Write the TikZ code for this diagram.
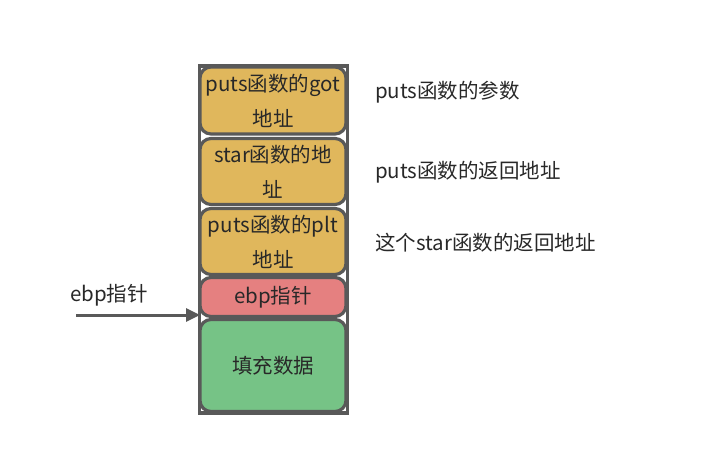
\documentclass[tikz,border=0pt]{standalone}
\usepackage{fontspec}
\setmainfont{Noto Sans CJK SC}
\usetikzlibrary{arrows.meta}
\definecolor{edgegray}{RGB}{89,89,89}
\definecolor{gold}{RGB}{224,183,92}
\definecolor{salmon}{RGB}{229,128,128}
\definecolor{mint}{RGB}{118,195,134}
\definecolor{txt}{RGB}{40,40,40}
\tikzset{
  cell/.style={draw=edgegray, line width=3.2pt, rounded corners=11pt, minimum width=146pt, align=center, text=txt, inner sep=0pt,
    font=\fontsize{20.5}{35}\selectfont},
  note/.style={anchor=west, text=txt, inner sep=0pt, font=\fontsize{20.5}{24}\selectfont},
}
\begin{document}
\begin{tikzpicture}[x=1pt,y=-1pt]
\useasboundingbox (0,0) rectangle (723,473);
\node[draw=edgegray, line width=3.2pt, fill=white, minimum width=148pt, minimum height=347pt, inner sep=0pt] (stack) at (273.5,239.5) {};
\node[cell, fill=gold, minimum height=67pt] (got) at (273,100.5) {puts函数的got\\地址};
\node[cell, fill=gold, minimum height=66pt] (star) at (273,171.5) {star函数的地\\址};
\node[cell, fill=gold, minimum height=66pt] (plt) at (273,241.5) {puts函数的plt\\地址};
\node[cell, fill=salmon, minimum height=39pt] (ebp) at (273,297) {ebp指针};
\node[cell, fill=mint, minimum height=92pt] (fill) at (273,365.5) {填充数据};
\node[note] (n1) at (375,92) {puts函数的参数};
\node[note] (n2) at (375,172) {puts函数的返回地址};
\node[note] (n3) at (375,243) {这个star函数的返回地址};
\node[note] (ebplabel) at (70,295) {ebp指针};
\coordinate (tail) at (76,315);
\coordinate (tip) at (200,315);
\draw[edgegray, line width=3pt, -{Triangle[length=14pt,width=13pt]}] (tail) -- (tip);
\end{tikzpicture}
\end{document}
